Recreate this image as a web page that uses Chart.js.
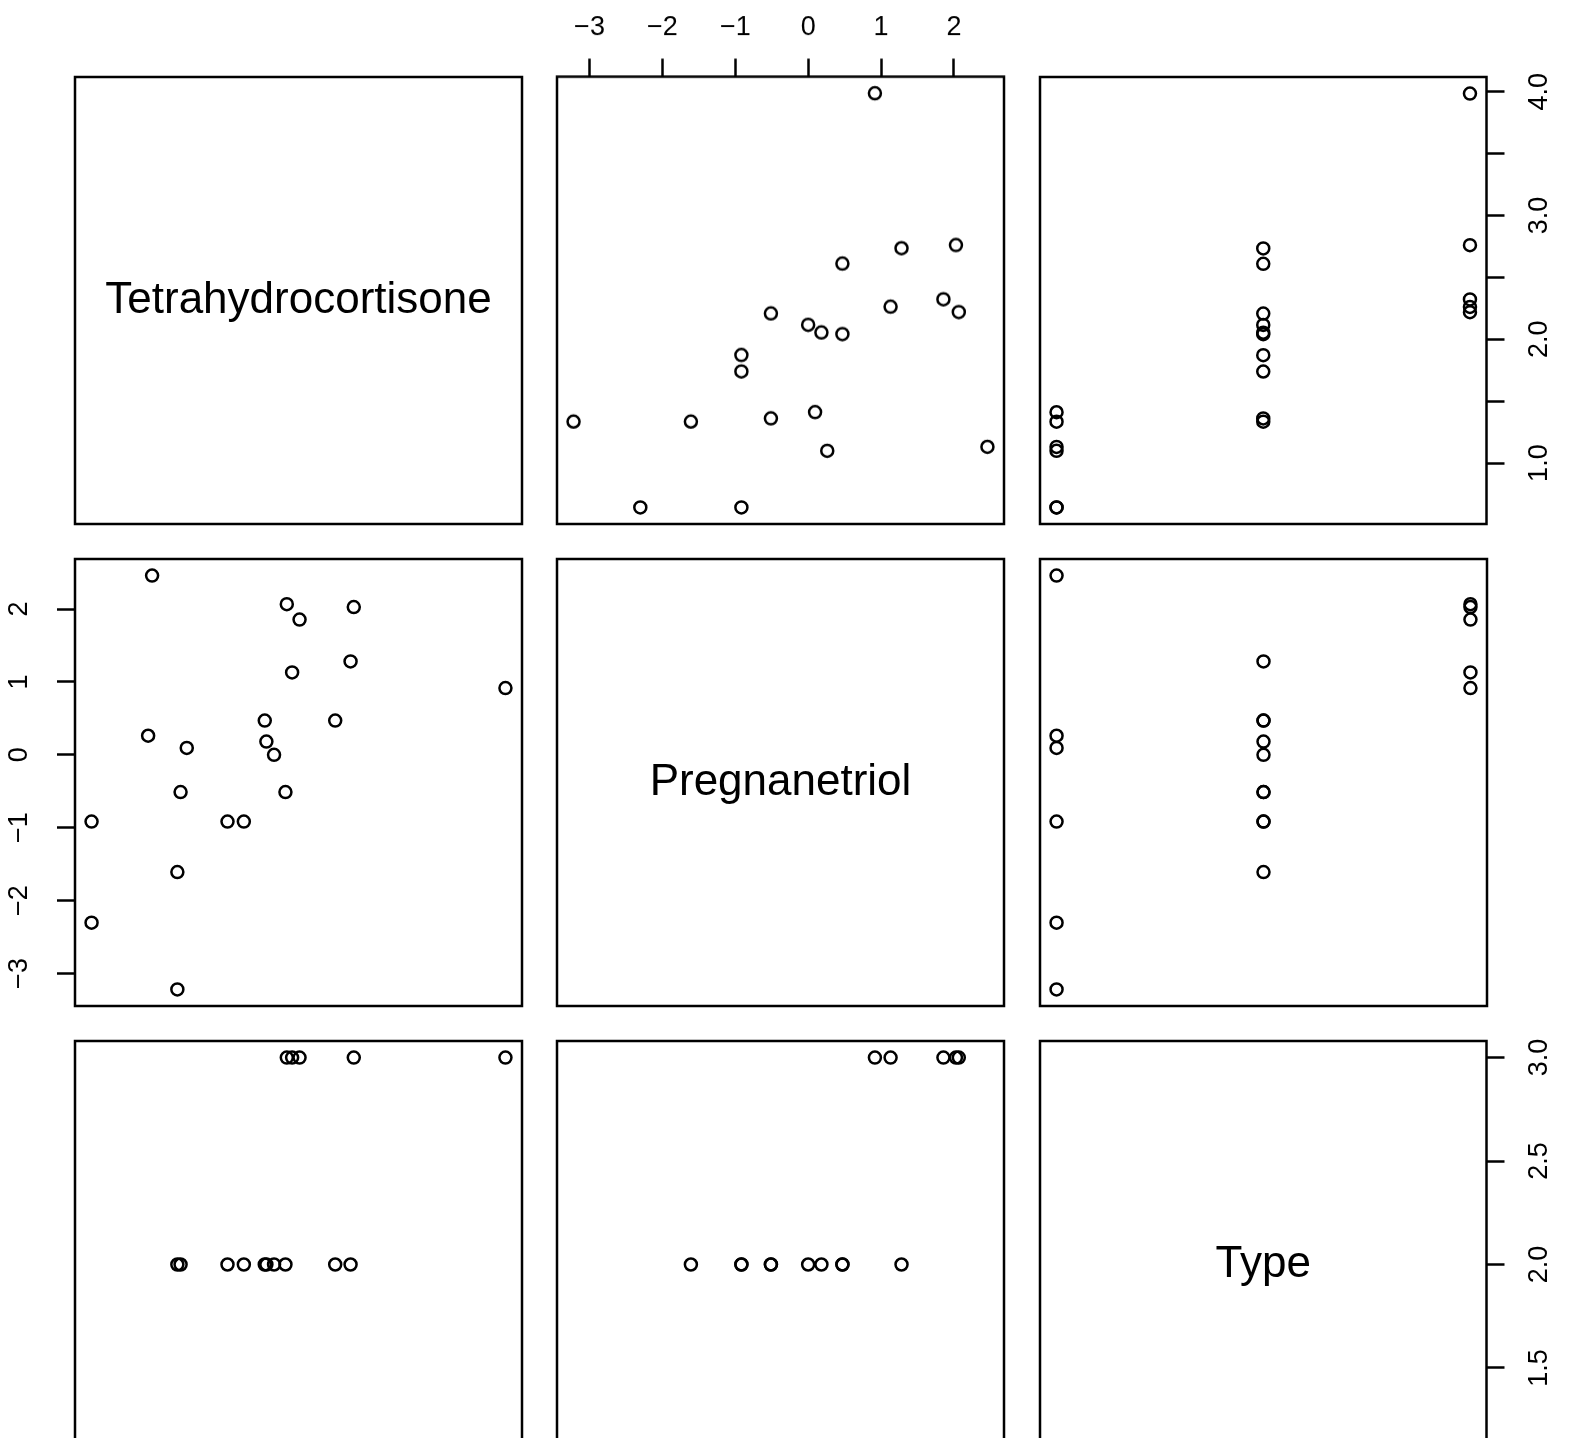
<!DOCTYPE html>
<html>
<head>
<meta charset="utf-8">
<title>Cushings pairs plot</title>
<script src="https://cdn.jsdelivr.net/npm/chart.js@4.4.1/dist/chart.umd.min.js"></script>
<style>
  html, body { margin: 0; padding: 0; background: #fff; overflow: hidden; }
  #plot { position: relative; width: 1573px; height: 1438px; overflow: hidden; background: #fff; }
  .panel { position: absolute; }
</style>
</head>
<body>
<div id="plot"></div>
<script>
// variables (log scale values, one entry per patient)
const varNames = ["Tetrahydrocortisone", "Pregnanetriol", "Type"];
const tetrahydrocortisone = [1.131, 1.099, 0.642, 1.335, 1.411, 0.642, 2.116, 1.335, 1.361, 2.054, 2.208,
  2.734, 2.041, 1.872, 1.740, 2.610, 2.322, 2.219, 2.262, 3.985, 2.760];
const pregnanetriol = [2.460, 0.262, -2.303, -3.219, 0.095, -0.916, 0.000, -1.609, -0.511, 0.182, -0.511,
  1.281, 0.470, -0.916, -0.916, 0.470, 1.856, 2.067, 1.131, 0.916, 2.028];
const type = [1, 1, 1, 1, 1, 1, 2, 2, 2, 2, 2, 2, 2, 2, 2, 2, 3, 3, 3, 3, 3];

// tick values and labels for each variable
const tetraTicks = [1.0, 1.5, 2.0, 2.5, 3.0, 3.5, 4.0];
const tetraTickLabels = ["1.0", "", "2.0", "", "3.0", "", "4.0"];
const pregTicks = [-3, -2, -1, 0, 1, 2];
const pregTickLabels = ["\u22123", "\u22122", "\u22121", "0", "1", "2"];
const typeTicks = [1.0, 1.5, 2.0, 2.5, 3.0];
const typeTickLabels = ["1.0", "1.5", "2.0", "2.5", "3.0"];

const columns = [tetrahydrocortisone, pregnanetriol, type];
const tickValues = [tetraTicks, pregTicks, typeTicks];
const tickLabels = [tetraTickLabels, pregTickLabels, typeTickLabels];

// layout
const BOX = 447;
const colLeft = [75, 557, 1039.5];
const rowTop = [76.5, 558.5, 1040.5];
const EDGE = 4;
const FONT = "'Liberation Sans', Arial, Helvetica, sans-serif";

// which panels carry an outer axis
const axisSides = { "0,1": "top", "0,2": "right", "1,0": "left", "2,2": "right" };
const axisSize = { top: 76.5, right: 86.5, left: 75 };
const axisPad = { top: 15, right: 16.5, left: 22 };

const panelBox = {
  id: "panelBox",
  afterDraw(chart, args, opts) {
    const { ctx, chartArea: a } = chart;
    ctx.save();
    ctx.strokeStyle = "#000";
    ctx.lineWidth = 2.5;
    ctx.strokeRect(a.left, a.top, a.right - a.left, a.bottom - a.top);
    if (opts.text) {
      ctx.fillStyle = "#000";
      ctx.font = "44px " + FONT;
      ctx.textAlign = "center";
      ctx.textBaseline = "middle";
      ctx.fillText(opts.text, (a.left + a.right) / 2, (a.top + a.bottom) / 2);
    }
    ctx.restore();
  },
};

function range(v) {
  const vals = columns[v];
  const lo = Math.min(...vals);
  const hi = Math.max(...vals);
  const pad = (hi - lo) * 0.04;
  return [lo - pad, hi + pad];
}

function makeScale(v, side) {
  const [lo, hi] = range(v);
  const scale = { type: "linear", min: lo, max: hi, bounds: "data", display: !!side };
  if (!side) return scale;
  const vertical = side === "left" || side === "right";
  return Object.assign(scale, {
    position: side,
    border: { display: false },
    grid: {
      drawOnChartArea: false,
      drawTicks: true,
      tickLength: 18,
      tickWidth: 2.5,
      tickColor: "#000",
    },
    ticks: {
      autoSkip: false,
      color: "#000",
      font: { family: FONT, size: 27 },
      padding: axisPad[side],
      minRotation: vertical ? 90 : 0,
      maxRotation: vertical ? 90 : 0,
      crossAlign: vertical ? "center" : "near",
      callback: (value, i) => tickLabels[v][i],
    },
    afterBuildTicks: (axis) => {
      axis.ticks = tickValues[v].map((t) => ({ value: t }));
    },
    afterFit: (axis) => {
      if (vertical) axis.width = axisSize[side];
      else axis.height = axisSize[side];
      axis.paddingTop = 0;
      axis.paddingBottom = 0;
      axis.paddingLeft = 0;
      axis.paddingRight = 0;
    },
  });
}

function makePanel(r, c) {
  const side = axisSides[r + "," + c];
  const pad = { top: EDGE, right: EDGE, bottom: EDGE, left: EDGE };
  const ext = { top: EDGE, right: EDGE, bottom: EDGE, left: EDGE };
  if (side) {
    pad[side] = 0;
    ext[side] = axisSize[side];
  }

  const div = document.createElement("div");
  div.className = "panel";
  div.style.left = colLeft[c] - ext.left + "px";
  div.style.top = rowTop[r] - ext.top + "px";
  const w = BOX + ext.left + ext.right;
  const h = BOX + ext.top + ext.bottom;
  div.style.width = w + "px";
  div.style.height = h + "px";
  const canvas = document.createElement("canvas");
  canvas.width = w;
  canvas.height = h;
  canvas.style.width = w + "px";
  canvas.style.height = h + "px";
  div.appendChild(canvas);
  document.getElementById("plot").appendChild(div);

  const diag = r === c;
  const points = diag ? [] : columns[c].map((x, i) => ({ x: x, y: columns[r][i] }));
  const xSide = side === "top" || side === "bottom" ? side : null;
  const ySide = side === "left" || side === "right" ? side : null;

  new Chart(canvas.getContext("2d"), {
    type: "scatter",
    data: {
      datasets: [
        {
          data: points,
          pointStyle: "circle",
          pointRadius: 6,
          pointHoverRadius: 6,
          pointBorderWidth: 2.5,
          pointBorderColor: "#000",
          pointBackgroundColor: "rgba(0,0,0,0)",
          clip: false,
        },
      ],
    },
    options: {
      responsive: false,
      animation: false,
      events: [],
      layout: { padding: pad, autoPadding: false },
      scales: {
        x: makeScale(c, xSide),
        y: makeScale(r, ySide),
      },
      plugins: {
        legend: { display: false },
        tooltip: { enabled: false },
        panelBox: { text: diag ? varNames[r] : null },
      },
    },
    plugins: [panelBox],
  });
}

for (let r = 0; r < 3; r++) {
  for (let c = 0; c < 3; c++) {
    makePanel(r, c);
  }
}
</script>
</body>
</html>
